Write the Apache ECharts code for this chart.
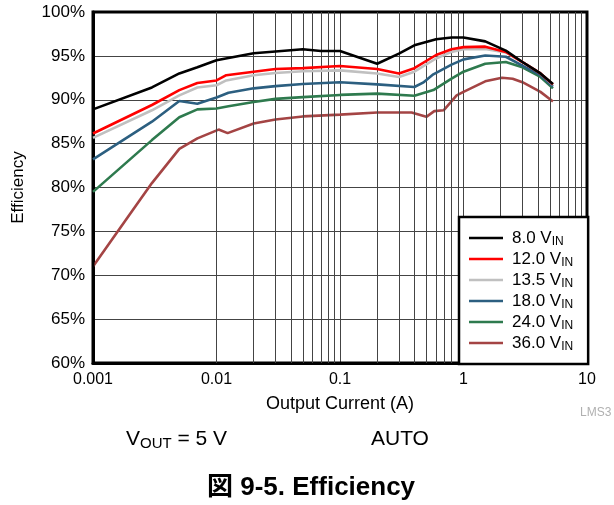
<!DOCTYPE html>
<html>
<head>
<meta charset="utf-8">
<script src="https://cdn.jsdelivr.net/npm/echarts@6/dist/echarts.min.js"></script>
<style>
html,body{margin:0;padding:0;background:#fff;}
#chart{width:614px;height:505px;}
</style>
</head>
<body>
<div id="chart"></div>
<script>
// ---- data ----
const seriesNames = ['8.0', '12.0', '13.5', '18.0', '24.0', '36.0'];
const seriesColors = ['#000000', '#ff0000', '#c0c0c0', '#2c5f80', '#2e7a4e', '#a44444'];

const current8 = [0.001, 0.003, 0.005, 0.007, 0.01, 0.02, 0.03, 0.05, 0.07, 0.1, 0.2, 0.3, 0.4, 0.6, 0.8, 1, 1.5, 2.2, 3, 4.2, 5.3];
const eff8     = [88.9, 91.4, 93.0, 93.7, 94.5, 95.3, 95.5, 95.75, 95.55, 95.55, 94.1, 95.25, 96.2, 96.9, 97.1, 97.1, 96.65, 95.6, 94.3, 93.0, 91.8];

const current12 = [0.001, 0.003, 0.005, 0.007, 0.01, 0.012, 0.02, 0.03, 0.05, 0.1, 0.2, 0.3, 0.4, 0.6, 0.8, 1, 1.5, 2.2, 3, 4.2, 5.3];
const eff12     = [86.15, 89.4, 91.1, 91.9, 92.2, 92.8, 93.2, 93.5, 93.6, 93.85, 93.5, 93.0, 93.6, 95.1, 95.75, 96.0, 96.05, 95.45, 94.3, 93.0, 91.75];

const current135 = [0.001, 0.003, 0.005, 0.007, 0.01, 0.012, 0.02, 0.03, 0.05, 0.1, 0.2, 0.3, 0.4, 0.6, 0.8, 1, 1.5, 2.2, 3, 4.2, 5.3];
const eff135     = [85.65, 88.8, 90.5, 91.4, 91.65, 92.2, 92.8, 93.05, 93.25, 93.35, 93.0, 92.6, 93.2, 94.7, 95.45, 95.75, 95.8, 95.4, 94.3, 93.0, 91.7];

const current18 = [0.001, 0.003, 0.005, 0.007, 0.01, 0.0125, 0.02, 0.03, 0.05, 0.1, 0.2, 0.4, 0.47, 0.57, 0.8, 1, 1.5, 2.2, 3, 4.2, 5.3];
const eff18     = [83.2, 87.5, 89.85, 89.55, 90.25, 90.8, 91.3, 91.55, 91.8, 92.0, 91.75, 91.45, 91.95, 92.9, 94.0, 94.6, 95.05, 94.9, 93.9, 92.8, 91.5];

const current24 = [0.001, 0.003, 0.005, 0.007, 0.01, 0.0125, 0.02, 0.03, 0.05, 0.1, 0.2, 0.4, 0.57, 0.8, 1, 1.5, 2.2, 3, 4.2, 5.3];
const eff24     = [79.5, 85.4, 88.0, 88.9, 89.0, 89.25, 89.75, 90.1, 90.3, 90.55, 90.7, 90.45, 91.1, 92.4, 93.2, 94.1, 94.3, 93.7, 92.6, 91.3];

const current36 = [0.001, 0.002, 0.003, 0.005, 0.007, 0.0104, 0.0123, 0.02, 0.03, 0.05, 0.1, 0.2, 0.38, 0.5, 0.58, 0.69, 0.88, 1, 1.5, 2.05, 2.5, 3, 4.2, 5.3];
const eff36     = [71.0, 77.0, 80.5, 84.4, 85.6, 86.6, 86.2, 87.3, 87.75, 88.1, 88.3, 88.55, 88.55, 88.05, 88.7, 88.8, 90.5, 90.9, 92.1, 92.5, 92.4, 92.0, 90.9, 89.8];

const xTickLabels = ['0.001', '0.01', '0.1', '1', '10'];
const decades = [0.001, 0.01, 0.1, 1];
const minorMultipliers = [2, 3, 4, 5, 6, 7, 8, 9];

// ---- build ----
const currents = [current8, current12, current135, current18, current24, current36];
const effs = [eff8, eff12, eff135, eff18, eff24, eff36];
const FONT = '"Liberation Sans", Arial, Helvetica, sans-serif';

const minorLines = [];
decades.forEach(d => minorMultipliers.forEach(m => minorLines.push({ xAxis: +(d * m).toPrecision(3) })));

const series = seriesNames.map((n, i) => ({
  name: n,
  type: 'line',
  data: currents[i].map((c, j) => [c, effs[i][j]]),
  showSymbol: false,
  symbol: 'none',
  color: seriesColors[i],
  lineStyle: { width: 2.6, color: seriesColors[i] },
  z: 3 + (seriesNames.length - i)
}));
series.push({
  name: 'minorgrid',
  type: 'line',
  data: [],
  silent: true,
  z: 1,
  markLine: {
    silent: true,
    symbol: ['none', 'none'],
    label: { show: false },
    lineStyle: { color: '#444', width: 1, type: 'solid' },
    animation: false,
    data: minorLines
  }
});

const chart = echarts.init(document.getElementById('chart'), null, { renderer: 'canvas' });
chart.setOption({
  animation: false,
  backgroundColor: '#fff',
  textStyle: { fontFamily: FONT },
  grid: {
    left: 93, right: 27, top: 12, bottom: 142,
    show: true, borderColor: '#000', borderWidth: 3, backgroundColor: 'transparent', z: 5
  },
  xAxis: {
    type: 'log', logBase: 10, min: 0.001, max: 10,
    axisLine: { show: true, lineStyle: { color: '#000', width: 3 } },
    axisTick: { show: false },
    splitLine: { show: true, lineStyle: { color: '#444', width: 1 } },
    minorTick: { show: false },
    minorSplitLine: { show: false },
    axisLabel: {
      color: '#000', fontSize: 16, margin: 9, fontFamily: FONT,
      formatter: (v, idx) => xTickLabels[idx] !== undefined ? xTickLabels[idx] : ''
    },
    name: 'Output Current (A)', nameLocation: 'middle', nameGap: 32,
    nameTextStyle: { color: '#000', fontSize: 18, fontFamily: FONT }
  },
  yAxis: {
    type: 'value', min: 60, max: 100, interval: 5,
    axisLine: { show: true, lineStyle: { color: '#000', width: 3 } },
    axisTick: { show: false },
    splitLine: { show: true, lineStyle: { color: '#444', width: 1 } },
    axisLabel: { color: '#000', fontSize: 17, margin: 8, formatter: '{value}%', fontFamily: FONT },
    name: 'Efficiency', nameLocation: 'middle', nameGap: 66,
    nameTextStyle: { color: '#000', fontSize: 17, fontFamily: FONT }
  },
  legend: {
    data: seriesNames,
    orient: 'vertical',
    left: 459, top: 217,
    backgroundColor: '#fff',
    borderColor: '#000', borderWidth: 2.5,
    padding: [11, 15, 11, 10],
    itemGap: 1,
    icon: 'rect',
    itemWidth: 34, itemHeight: 2.6,
    selectedMode: false,
    formatter: n => '{v|' + n + ' V}{s|IN}',
    textStyle: {
      color: '#000', fontFamily: FONT,
      rich: {
        v: { fontSize: 17, fontFamily: FONT, color: '#000', padding: [0, 0, 0, 4], lineHeight: 20 },
        s: { fontSize: 12, fontFamily: FONT, color: '#000', padding: [8, 0, 0, 0], lineHeight: 20 }
      }
    },
    z: 10
  },
  graphic: [
    {
      type: 'text', left: 126, top: 427,
      style: {
        text: '{v|V}{s|OUT}{v| = 5 V}',
        rich: {
          v: { fontSize: 21, fontFamily: FONT, fill: '#000', lineHeight: 25 },
          s: { fontSize: 15, fontFamily: FONT, fill: '#000', padding: [9, 0, 0, 0], lineHeight: 25 }
        }
      }
    },
    {
      type: 'text', left: 371, top: 429,
      style: { text: 'AUTO', fontSize: 21, fontFamily: FONT, fill: '#000' }
    },
    {
      type: 'text', left: 580, top: 407,
      style: { text: 'LMS3', fontSize: 12, fontFamily: FONT, fill: '#b0b0b0' }
    },
    {
      type: 'text', left: 207, top: 475,
      style: {
        text: '図 9-5. Efficiency', fontSize: 26, fontWeight: 'bold',
        fontFamily: '"Liberation Sans", Arial, "Noto Sans CJK JP", sans-serif', fill: '#000'
      }
    }
  ],
  series: series
});
</script>
</body>
</html>
